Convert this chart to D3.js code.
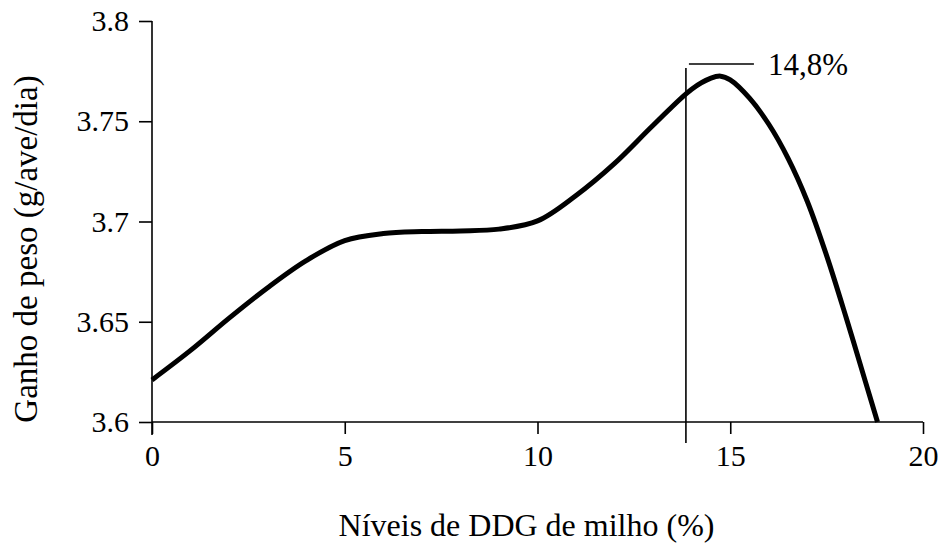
<!DOCTYPE html>
<html><head><meta charset="utf-8">
<script src="https://cdn.jsdelivr.net/npm/d3@7"></script>
<style>
body{margin:0;background:#fff;}
svg text{font-family:"Liberation Serif","Times New Roman",Times,serif !important;fill:#000;}
</style></head>
<body><svg id="c" width="941" height="544"></svg>
<script>
const levels = [0,1,2,3,4,5,6,7,8,9,10,11,12,13,14,14.5,14.75,15,15.5,16,16.5,17,17.5,18,18.5,18.82];
const gain = [3.621,3.6357,3.6518,3.667,3.6805,3.6905,3.694,3.695,3.6953,3.6962,3.7003,3.713,3.729,3.748,3.766,3.7715,3.7725,3.7706,3.7615,3.7485,3.7315,3.71,3.683,3.6525,3.6205,3.6];
const xTicks = [0,5,10,15,20];
const yTicks = [3.6,3.65,3.7,3.75,3.8];
const yTickLabels = ["3.6","3.65","3.7","3.75","3.8"];
const markerX = [13.85];
const markerLabel = ["14,8%"];
const xTitle = "Níveis de DDG de milho (%)";
const yTitle = "Ganho de peso (g/ave/dia)";

const FONT = "'Liberation Serif','Times New Roman',Times,serif";
const svg = d3.select("#c");
const x = d3.scaleLinear().domain([0,20]).range([152,923]);
const y = d3.scaleLinear().domain([3.6,3.8]).range([422,21]);

const xAxis = svg.append("g").attr("transform","translate(0,422)")
  .call(d3.axisBottom(x).tickValues(xTicks).tickSize(12).tickPadding(11).tickFormat(d3.format("d")));
const yAxis = svg.append("g").attr("transform","translate(152,0)")
  .call(d3.axisLeft(y).tickValues(yTicks).tickSize(13).tickPadding(10).tickFormat((d,i)=>yTickLabels[i]));
[xAxis,yAxis].forEach(g=>{
  g.attr("font-family",FONT).attr("font-size",30);
  g.select(".domain").remove();
  g.selectAll("line").attr("stroke","#000").attr("stroke-width",1.6);
  g.selectAll("text").attr("fill","#000");
});
// axis lines
svg.append("line").attr("x1",x(0)).attr("x2",x(20)).attr("y1",y(3.6)).attr("y2",y(3.6)).attr("stroke","#000").attr("stroke-width",1.6);
svg.append("line").attr("x1",x(0)).attr("x2",x(0)).attr("y1",y(3.8)).attr("y2",y(3.6)+13).attr("stroke","#000").attr("stroke-width",1.6);

// curve
svg.append("path").datum(levels.map((v,i)=>[v,gain[i]]))
  .attr("d", d3.line().x(d=>x(d[0])).y(d=>y(d[1])).curve(d3.curveCatmullRom.alpha(0.5)))
  .attr("fill","none").attr("stroke","#000").attr("stroke-width",5).attr("stroke-linejoin","round");

// marker
const mx = x(markerX[0]);
svg.append("line").attr("x1",mx).attr("x2",mx).attr("y1",68).attr("y2",443).attr("stroke","#000").attr("stroke-width",1.6);
svg.append("line").attr("x1",mx+3).attr("x2",mx+68).attr("y1",64).attr("y2",64).attr("stroke","#000").attr("stroke-width",1.6);
svg.append("text").attr("x",mx+82).attr("y",75).attr("font-family",FONT).attr("font-size",31).text(markerLabel[0]);

// titles
svg.append("text").attr("x",x(10)-11).attr("y",536).attr("text-anchor","middle").attr("font-family",FONT).attr("font-size",32).text(xTitle);
svg.append("text").attr("transform","translate(37,249) rotate(-90)").attr("text-anchor","middle").attr("font-family",FONT).attr("font-size",33).text(yTitle);
</script></body></html>
